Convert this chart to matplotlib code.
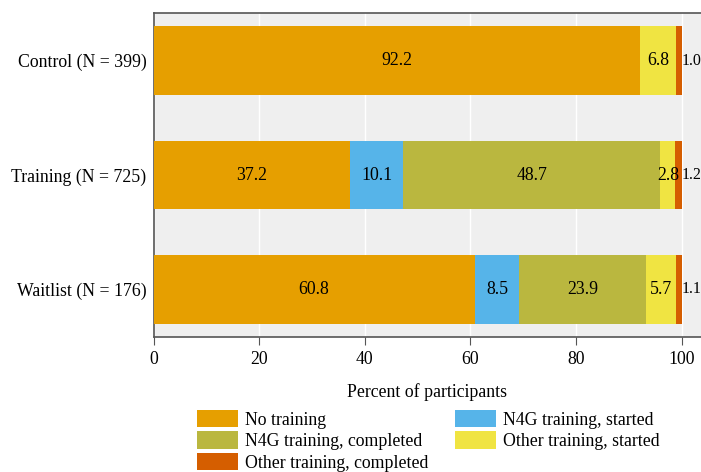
import matplotlib
matplotlib.use("Agg")
import matplotlib.pyplot as plt
import numpy as np

groups = ["Control (N = 399)", "Training (N = 725)", "Waitlist (N = 176)"]
categories = ["No training", "N4G training, started", "N4G training, completed",
              "Other training, started", "Other training, completed"]
no_training = [92.2, 37.2, 60.8]
n4g_started = [0.0, 10.1, 8.5]
n4g_completed = [0.0, 48.7, 23.9]
other_started = [6.8, 2.8, 5.7]
other_completed = [1.0, 1.2, 1.1]
series = [no_training, n4g_started, n4g_completed, other_started, other_completed]
colors = ["#E69F00", "#56B4E9", "#BAB73F", "#F0E442", "#D55E00"]
xticks = [0, 20, 40, 60, 80, 100]

FS = 12.8
plt.rcParams['font.family'] = ['Liberation Serif', 'DejaVu Serif']
fig = plt.figure(figsize=(7.01, 4.72), dpi=100)
ax = fig.add_axes([153.5/701, (472-337)/472, 1 - 153.5/701, (337-13)/472])
ax.set_facecolor("#EFEFEF")

y = np.arange(len(groups))
left = np.zeros(len(groups))
handles = []
for si, (vals, col, name) in enumerate(zip(series, colors, categories)):
    vals = np.array(vals)
    bars = ax.barh(y, vals, left=left, height=0.6, color=col, label=name, zorder=3)
    handles.append(bars)
    for yi, (v, l) in enumerate(zip(vals, left)):
        if v <= 0:
            continue
        if si == len(series) - 1:
            ax.text(l + v + 0.05, yi, f"{v:.1f}", ha="left", va="center", fontsize=11.5, zorder=4)
        else:
            ax.text(l + v / 2, yi, f"{v:.1f}", ha="center", va="center", fontsize=FS, zorder=4)
    left = left + vals

ax.set_xlim(0, (701 - 153.5) / 5.28)
ax.set_ylim(2.415, -0.415)
ax.set_yticks(y)
ax.set_yticklabels(groups, fontsize=FS)
ax.set_xticks(xticks)
ax.set_xticklabels([str(t) for t in xticks], fontsize=FS)
ax.tick_params(axis="y", length=0, pad=5)
ax.tick_params(axis="x", length=6, color="#555555", pad=4)
ax.grid(axis="x", color="white", linewidth=1, zorder=1)
ax.set_axisbelow(True)
for s in ["top", "left", "bottom"]:
    ax.spines[s].set_color("#555555")
    ax.spines[s].set_linewidth(1.2)
ax.spines["right"].set_visible(False)
ax.set_xlabel("Percent of participants", fontsize=FS, labelpad=11)

order = [0, 2, 4, 1, 3]
fig.legend([handles[i] for i in order], [categories[i] for i in order],
           loc="upper left", bbox_to_anchor=(195/701, 1 - 408/472), ncol=2,
           frameon=False, fontsize=FS, handlelength=2.3, handleheight=1.15,
           handletextpad=0.4, columnspacing=1.5, labelspacing=0.15, borderaxespad=0,
           borderpad=0.1)

fig.savefig("out.png", dpi=100)
